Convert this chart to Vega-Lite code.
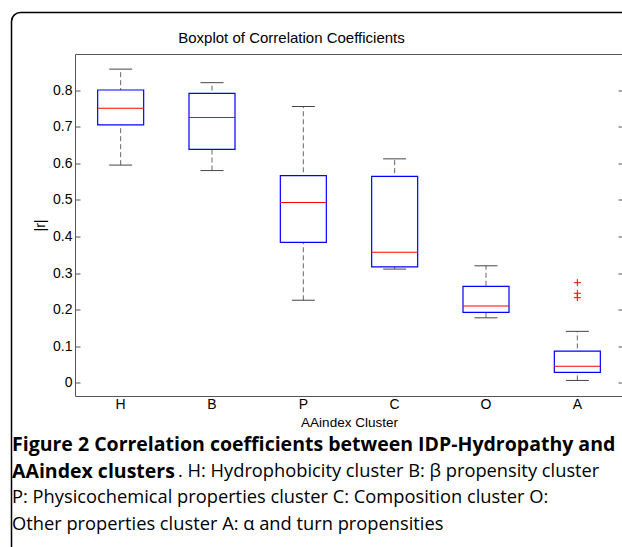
{
  "$schema": "https://vega.github.io/schema/vega-lite/v6.json",
  "autosize": {"type": "none"},
  "padding": {"left": 11.5, "top": 12.5, "right": 0, "bottom": 0},
  "width": 640,
  "height": 560,
  "background": "white",
  "view": {"stroke": "black", "strokeWidth": 1.5, "cornerRadius": 9, "fill": "white"},
  "config": {
    "font": "Liberation Sans",
    "axis": {"labelFont": "Liberation Sans", "titleFont": "Liberation Sans", "grid": false}
  },
  "title": {"text": "Boxplot of Correlation Coefficients", "orient": "top", "frame": "group", "anchor": "middle", "offset": -45, "baseline": "alphabetic", "dx": -40, "fontSize": 15, "font": "Liberation Sans", "fontWeight": "normal", "color": "black"},
  "datasets": {
    "stats": [
      {"cluster": "H", "lower": 0.595, "q1": 0.705, "median": 0.75, "q3": 0.8, "upper": 0.857},
      {"cluster": "B", "lower": 0.58, "q1": 0.638, "median": 0.725, "q3": 0.791, "upper": 0.82},
      {"cluster": "P", "lower": 0.226, "q1": 0.384, "median": 0.493, "q3": 0.566, "upper": 0.755},
      {"cluster": "C", "lower": 0.311, "q1": 0.317, "median": 0.357, "q3": 0.564, "upper": 0.612},
      {"cluster": "O", "lower": 0.178, "q1": 0.193, "median": 0.21, "q3": 0.264, "upper": 0.32},
      {"cluster": "A", "lower": 0.007, "q1": 0.029, "median": 0.046, "q3": 0.087, "upper": 0.141}
    ],
    "outliers": [
      {"cluster": "A", "value": 0.274},
      {"cluster": "A", "value": 0.245},
      {"cluster": "A", "value": 0.233}
    ],
    "captionBold": [
      {"line": 1, "text": "Figure 2 Correlation coefficients between IDP-Hydropathy and"},
      {"line": 2, "text": "AAindex clusters"}
    ],
    "captionLine2": [
      {"line": 2, "text": ". H: Hydrophobicity cluster B: β propensity cluster"}
    ],
    "captionPlain": [
      {"line": 3, "text": "P: Physicochemical properties cluster C: Composition cluster O:"},
      {"line": 4, "text": "Other properties cluster A: α and turn propensities"}
    ]
  },
  "resolve": {"scale": {"x": "independent", "y": "independent"}, "axis": {"x": "independent", "y": "independent"}},
  "layer": [
    {
      "data": {"name": "stats"},
      "layer": [
        {
          "mark": {"type": "rule", "color": "#666666", "strokeDash": [5, 3], "strokeWidth": 1},
          "encoding": {
            "x": {
              "field": "cluster", "type": "nominal", "sort": ["H", "B", "P", "C", "O", "A"],
              "scale": {"range": [63.5, 611.5], "paddingInner": 0, "paddingOuter": 0},
              "axis": {"orient": "bottom", "offset": -176.5, "title": "AAindex Cluster", "labelAngle": 0, "ticks": false, "domain": true, "domainColor": "#555555", "labelFontSize": 14, "labelColor": "black", "labelPadding": 1, "titleFontSize": 13.5, "titleFontWeight": "normal", "titleColor": "black", "titlePadding": 4}
            },
            "y": {
              "field": "lower", "type": "quantitative",
              "scale": {"domain": [-0.0355, 0.8983], "range": [383.5, 41.5], "nice": false, "zero": false},
              "axis": {"orient": "left", "offset": -63.5, "values": [0, 0.1, 0.2, 0.3, 0.4, 0.5, 0.6, 0.7, 0.8], "format": "~g", "tickSize": -5, "tickColor": "#555555", "domain": true, "domainColor": "#555555", "labelFontSize": 14, "labelColor": "black", "labelPadding": 8, "title": "|r|", "titleFontSize": 14, "titleFontWeight": "normal", "titleColor": "black", "titlePadding": 5}
            },
            "y2": {"field": "upper"}
          }
        },
        {
          "mark": {"type": "tick", "color": "#444444", "size": 23, "thickness": 1, "opacity": 1},
          "encoding": {
            "x": {"field": "cluster", "type": "nominal", "sort": ["H", "B", "P", "C", "O", "A"], "axis": null},
            "y": {"field": "lower", "type": "quantitative", "axis": null}
          }
        },
        {
          "mark": {"type": "tick", "color": "#444444", "size": 23, "thickness": 1, "opacity": 1},
          "encoding": {
            "x": {"field": "cluster", "type": "nominal", "sort": ["H", "B", "P", "C", "O", "A"], "axis": null},
            "y": {"field": "upper", "type": "quantitative", "axis": null}
          }
        },
        {
          "mark": {"type": "bar", "width": 46, "fill": "white", "stroke": "#0000ff", "strokeWidth": 1.2, "opacity": 1},
          "encoding": {
            "x": {"field": "cluster", "type": "nominal", "sort": ["H", "B", "P", "C", "O", "A"], "axis": {"orient": "top", "offset": -41.5, "labels": false, "ticks": false, "domain": true, "domainColor": "#555555", "title": null}},
            "y": {"field": "q1", "type": "quantitative", "axis": {"orient": "right", "offset": -28.5, "values": [0, 0.1, 0.2, 0.3, 0.4, 0.5, 0.6, 0.7, 0.8], "labels": false, "tickSize": -5, "tickColor": "#555555", "domain": true, "domainColor": "#555555", "title": null}},
            "y2": {"field": "q3"}
          }
        },
        {
          "mark": {"type": "tick", "color": "#ff0000", "size": 46, "thickness": 1, "opacity": 1},
          "encoding": {
            "x": {"field": "cluster", "type": "nominal", "sort": ["H", "B", "P", "C", "O", "A"], "axis": null},
            "y": {"field": "median", "type": "quantitative", "axis": null}
          }
        },
        {
          "data": {"name": "outliers"},
          "mark": {"type": "point", "shape": "M-1,0L1,0M0,-1L0,1", "size": 49, "stroke": "#ff0000", "strokeWidth": 1, "filled": false, "opacity": 1},
          "encoding": {
            "x": {"field": "cluster", "type": "nominal", "sort": ["H", "B", "P", "C", "O", "A"], "axis": null},
            "y": {"field": "value", "type": "quantitative", "axis": null}
          }
        }
      ]
    },
    {
      "encoding": {
        "x": {"datum": 0, "type": "quantitative", "scale": {"domain": [0, 1], "range": [0, 640]}, "axis": null},
        "y": {"field": "line", "type": "quantitative", "scale": {"domain": [1, 4], "range": [432.5, 512], "nice": false, "zero": false}, "axis": null},
        "text": {"field": "text", "type": "nominal"}
      },
      "layer": [
        {"data": {"name": "captionBold"}, "mark": {"type": "text", "align": "left", "baseline": "middle", "dx": 0.5, "font": "Open Sans", "fontSize": 19.5, "fontWeight": "bold", "color": "black"}},
        {"data": {"name": "captionLine2"}, "mark": {"type": "text", "align": "left", "baseline": "middle", "dx": 166.5, "font": "Open Sans", "fontSize": 18.3, "color": "black"}},
        {"data": {"name": "captionPlain"}, "mark": {"type": "text", "align": "left", "baseline": "middle", "dx": 0.5, "font": "Open Sans", "fontSize": 18.3, "color": "black"}}
      ]
    }
  ]
}
